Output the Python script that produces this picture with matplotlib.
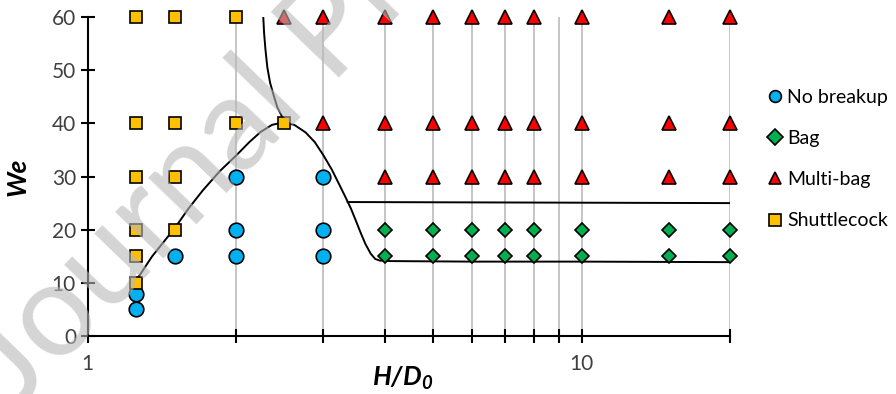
import matplotlib.pyplot as plt
from matplotlib.ticker import FixedLocator, NullFormatter, FixedFormatter

plt.rcParams['font.family'] = ['Lato', 'DejaVu Sans']
plt.rcParams['mathtext.fontset'] = 'custom'
plt.rcParams['mathtext.rm'] = 'Lato'
plt.rcParams['mathtext.it'] = 'Lato:italic'
plt.rcParams['mathtext.bf'] = 'Lato:bold'
plt.rcParams['mathtext.bfit'] = 'Lato:italic:bold'

# regime data (H/D0, We)
nobreak_x = [1.25, 1.25, 1.5, 2, 2, 2, 3, 3, 3]
nobreak_y = [5, 8, 15, 15, 20, 30, 15, 20, 30]

bag_hd = [4, 5, 6, 7, 8, 10, 15, 20]
bag_x = bag_hd * 2
bag_y = [15] * 8 + [20] * 8

multi_x = [2.5, 3, 4, 5, 6, 7, 8, 10, 15, 20] + [3, 4, 5, 6, 7, 8, 10, 15, 20] + [4, 5, 6, 7, 8, 10, 15, 20]
multi_y = [60] * 10 + [40] * 9 + [30] * 8

shuttle_x = [1.25, 1.25, 1.25, 1.25, 1.25, 1.25, 1.5, 1.5, 1.5, 1.5, 2, 2, 2.5]
shuttle_y = [10, 15, 20, 30, 40, 60, 20, 30, 40, 60, 40, 60, 40]

# regime boundaries
lower_x = [1.25, 1.35, 1.5, 1.6, 1.71, 1.85, 2.0, 2.12, 2.24, 2.36, 2.49, 2.62, 2.76, 2.88,
           3.0, 3.12, 3.25, 3.33, 3.41, 3.49, 3.57, 3.65, 3.74, 3.82, 3.9, 4.1, 6, 10, 20]
lower_y = [10.3, 15.0, 20.3, 24.0, 27.4, 31.0, 34.0, 36.4, 38.4, 39.7, 40.2, 39.7, 38.3, 36.5,
           34.0, 31.3, 28.0, 26.0, 24.0, 21.7, 19.4, 17.3, 15.5, 14.5, 14.2, 14.1, 14.0, 14.0, 13.9]

upper_x = [2.265, 2.275, 2.29, 2.31, 2.34, 2.38, 2.42, 2.47, 2.52]
upper_y = [60.5, 57.0, 53.8, 50.5, 47.6, 45.2, 43.0, 41.4, 40.2]

mid_x = [3.36, 20]
mid_y = [25.2, 25.0]

fig = plt.figure(figsize=(8.96, 3.94), dpi=100)
ax = fig.add_axes([0.098, 0.147, 0.717, 0.81])

ax.set_xscale('log')
ax.set_xlim(1, 20)
ax.set_ylim(0, 60)

grid_pos = [2, 3, 4, 5, 6, 7, 8, 9, 10, 20]
for g in grid_pos:
    ax.axvline(g, color='#c0c0c0', lw=1.3, zorder=1)

ax.plot(lower_x, lower_y, color='black', lw=1.4, zorder=2)
ax.plot(upper_x, upper_y, color='black', lw=1.4, zorder=2)
ax.plot(mid_x, mid_y, color='black', lw=1.4, zorder=2)

mk = dict(linestyle='none', markeredgecolor='black', markeredgewidth=1.2, clip_on=False, zorder=3)
ax.plot(nobreak_x, nobreak_y, 'o', markerfacecolor='#00B0F0', markersize=10.5, label='No breakup', **mk)
ax.plot(bag_x, bag_y, 'D', markerfacecolor='#00B050', markersize=7, label='Bag', **mk)
ax.plot(multi_x, multi_y, '^', markerfacecolor='#FF0000', markersize=10, label='Multi-bag', **mk)
ax.plot(shuttle_x, shuttle_y, 's', markerfacecolor='#FFC000', markersize=8.5, label='Shuttlecock', **mk)

ax.spines['top'].set_visible(False)
ax.spines['right'].set_visible(False)
ax.spines['left'].set_linewidth(1.5)
ax.spines['bottom'].set_linewidth(1.5)

ax.xaxis.set_major_locator(FixedLocator([1, 10]))
ax.xaxis.set_major_formatter(FixedFormatter(['1', '10']))
ax.xaxis.set_minor_locator(FixedLocator([2, 3, 4, 5, 6, 7, 8, 9, 20]))
ax.xaxis.set_minor_formatter(NullFormatter())
ax.set_yticks(range(0, 61, 10))
ax.tick_params(axis='both', which='both', direction='inout', length=10, width=1.5, labelsize=15,
               colors='black', labelcolor='#404040')
ax.tick_params(axis='x', pad=8)

ax.set_ylabel('We', fontsize=19, fontweight='bold', fontstyle='italic', labelpad=16)
ax.set_xlabel(r'$\mathbfit{H/D_0}$', fontsize=19)
ax.xaxis.set_label_coords(0.49, -0.09)

leg = fig.legend(loc='upper left', bbox_to_anchor=(0.845, 0.795), frameon=False, fontsize=14,
                 handletextpad=0.15, labelspacing=1.25, handlelength=1.0, borderaxespad=0)
for h in leg.legend_handles:
    h.set_markersize(8.5)

fig.text(0.02, -0.04, 'Journal Pre-proof', fontsize=94, color='#b8b8b8', alpha=0.6,
         rotation=46, rotation_mode='anchor', ha='left', va='baseline', zorder=10)

fig.savefig('out.png', dpi=100)
